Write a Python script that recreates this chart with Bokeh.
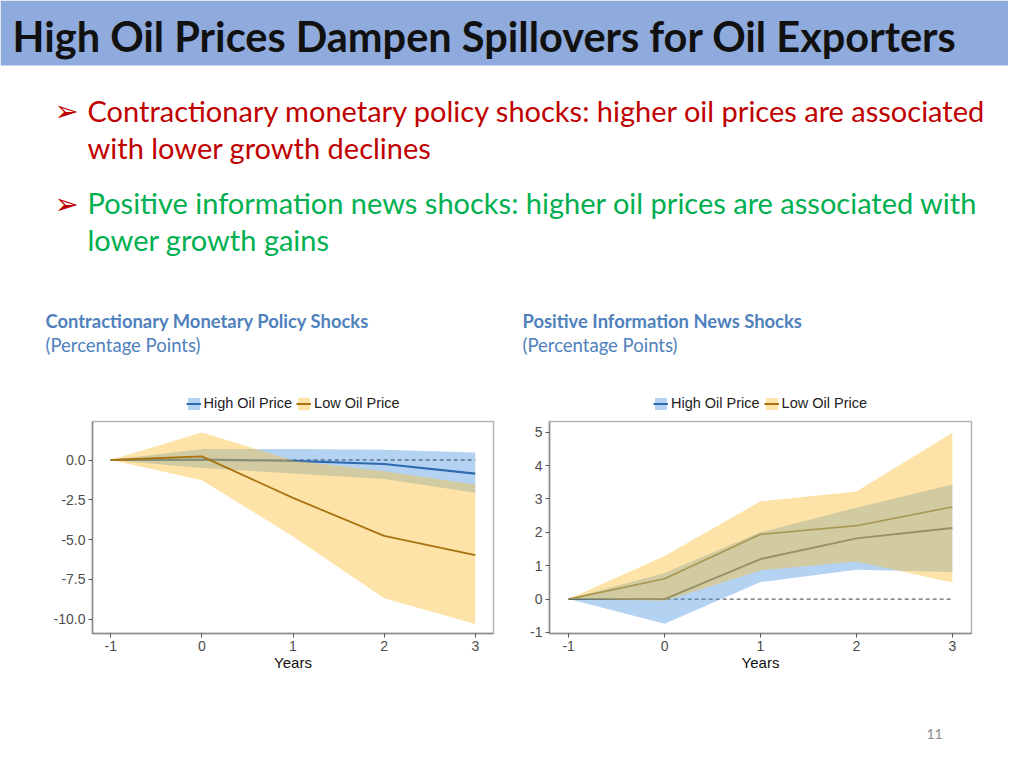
from bokeh.plotting import figure
from bokeh.models import Range1d, Legend, LegendItem, FixedTicker, PrintfTickFormatter
from bokeh.layouts import column, row
from bokeh.core.properties import value
from bokeh.embed import file_html
from bokeh.resources import INLINE

# ---------------- data ----------------
years = [-1, 0, 1, 2, 3]

# Contractionary monetary policy shocks
mp_high = [0, 0.03, -0.05, -0.25, -0.85]
mp_high_lo = [0, -0.5, -0.85, -1.19, -2.06]
mp_high_hi = [0, 0.69, 0.69, 0.65, 0.48]
mp_low = [0, 0.23, -2.38, -4.77, -5.98]
mp_low_lo = [0, -1.27, -4.8, -8.69, -10.3]
mp_low_hi = [0, 1.73, -0.03, -0.7, -1.54]

# Positive information news shocks
info_high = [0, 0, 1.2, 1.82, 2.13]
info_high_lo = [0, -0.74, 0.51, 0.88, 0.81]
info_high_hi = [0, 0.78, 2.0, 2.74, 3.43]
info_low = [0, 0.61, 1.94, 2.2, 2.76]
info_low_lo = [0, -0.05, 0.86, 1.13, 0.5]
info_low_hi = [0, 1.29, 2.93, 3.22, 4.98]

series_names = ["High Oil Price", "Low Oil Price"]
x_ticks = [-1, 0, 1, 2, 3]
mp_y_ticks = [-10, -7.5, -5, -2.5, 0]
info_y_ticks = [-1, 0, 1, 2, 3, 4, 5]

title = "High Oil Prices Dampen Spillovers for Oil Exporters"
bullet1 = ["Contractionary monetary policy shocks: higher oil prices are associated",
           "with lower growth declines"]
bullet2 = ["Positive information news shocks: higher oil prices are associated with",
           "lower growth gains"]
sub_left = "Contractionary Monetary Policy Shocks"
sub_right = "Positive Information News Shocks"
sub_unit = "(Percentage Points)"
page_no = "11"

# ---------------- styles ----------------
SLIDE_FONT = "Lato"
CHART_FONT = "Liberation Sans"
BLUE_FILL = "#4391DE"
ORANGE_FILL = "#FBBE35"
BLUE_LINE = "#2F6BAD"
ORANGE_LINE = "#A8730F"


def blank_fig(w, h, bl=0, br=0):
    p = figure(width=w, height=h, x_axis_type=None, y_axis_type=None, toolbar_location=None,
               output_backend="svg", min_border=0, min_border_left=bl, min_border_right=br)
    p.grid.visible = False
    p.outline_line_color = None
    p.border_fill_color = "white"
    p.background_fill_color = "white"
    return p


def text_fig(w, h):
    p = blank_fig(w, h)
    p.x_range = Range1d(0, w)
    p.y_range = Range1d(h, 0)
    return p


# ---------------- header ----------------
hdr = text_fig(1008, 388)
hdr.quad(left=[0], right=[1008], top=[0], bottom=[65], fill_color="#8FAADC", line_color=None)
hdr.text(x=[12], y=[35], text=[title], text_font=value(SLIDE_FONT), text_font_style="bold",
         text_font_size="41.5px", text_color="#111111", text_baseline="middle")
hdr.text(x=[54, 54], y=[110, 203], text=["\u27a2", "\u27a2"], text_font=value("DejaVu Sans"),
         text_font_size="29px", text_color="#C00000", text_baseline="middle")
hdr.text(x=[87, 87], y=[110, 147], text=bullet1, text_font=value(SLIDE_FONT),
         text_font_size="29px", text_color="#C00000", text_baseline="middle")
hdr.text(x=[87, 87], y=[202, 239], text=bullet2, text_font=value(SLIDE_FONT),
         text_font_size="29px", text_color="#00B050", text_baseline="middle")
hdr.text(x=[45, 522], y=[320, 320], text=[sub_left, sub_right], text_font=value(SLIDE_FONT),
         text_font_style="bold", text_font_size="18.4px", text_color="#4F81BD",
         text_baseline="middle")
hdr.text(x=[45, 522], y=[344, 344], text=[sub_unit, sub_unit], text_font=value(SLIDE_FONT),
         text_font_size="18.5px", text_color="#4F81BD", text_baseline="middle")


# ---------------- charts ----------------
def style_legend(items):
    return Legend(items=items, orientation="horizontal", location="center",
                  border_line_color=None, background_fill_alpha=0,
                  label_text_font=CHART_FONT, label_text_font_size="14.5px",
                  label_text_color="#222222",
                  glyph_width=15, glyph_height=15, spacing=4, padding=2, margin=0,
                  label_standoff=3)


def chart(width, bl, br, y_range, y_ticks, fmt, hi, hi_lo, hi_hi, lo, lo_lo, lo_hi,
          lines_under, hi_line_col, lo_line_col):
    p = figure(width=width, height=262, x_range=Range1d(-1.2, 3.2), y_range=Range1d(*y_range),
               toolbar_location=None, output_backend="svg",
               min_border_left=bl, min_border_right=br, min_border_top=3, min_border_bottom=47)
    p.grid.visible = False
    p.outline_line_color = "#B5B5B5"
    p.outline_line_width = 1.5
    p.background_fill_color = "white"
    p.border_fill_color = "white"

    p.xaxis.ticker = FixedTicker(ticks=x_ticks)
    p.xaxis.formatter = PrintfTickFormatter(format="%d")
    p.yaxis.ticker = FixedTicker(ticks=y_ticks)
    p.yaxis.formatter = PrintfTickFormatter(format=fmt)
    for ax in (p.xaxis[0], p.yaxis[0]):
        ax.axis_line_color = "#8C8C8C"
        ax.axis_line_width = 1.5
        ax.major_tick_line_color = "#555555"
        ax.major_tick_out = 4
        ax.major_tick_in = 0
        ax.minor_tick_line_color = None
        ax.major_label_text_font = CHART_FONT
        ax.major_label_text_font_size = "14px"
        ax.major_label_text_color = "#4D4D4D"
        ax.major_label_standoff = 3
    p.xaxis.axis_label = "Years"
    p.xaxis.axis_label_text_font = CHART_FONT
    p.xaxis.axis_label_text_font_size = "15px"
    p.xaxis.axis_label_text_font_style = "normal"
    p.xaxis.axis_label_text_color = "#111111"
    p.xaxis.axis_label_standoff = 0

    p.segment(x0=[years[0]], x1=[years[-1]], y0=[0], y1=[0], line_color="#666666",
              line_dash="4 3", line_width=1.3)

    if lines_under:
        p.line(years, hi, line_color=hi_line_col, line_width=1.8)
        p.line(years, lo, line_color=lo_line_col, line_width=1.6)
        p.varea(x=years, y1=hi_lo, y2=hi_hi, fill_color=BLUE_FILL, fill_alpha=0.4)
        p.varea(x=years, y1=lo_lo, y2=lo_hi, fill_color=ORANGE_FILL, fill_alpha=0.43)
    else:
        p.varea(x=years, y1=hi_lo, y2=hi_hi, fill_color=BLUE_FILL, fill_alpha=0.4)
        p.line(years, hi, line_color=hi_line_col, line_width=2.2)
        p.varea(x=years, y1=lo_lo, y2=lo_hi, fill_color=ORANGE_FILL, fill_alpha=0.43)
        p.line(years, lo, line_color=lo_line_col, line_width=1.8)

    # legend strip above the panel (its keys carry the same series, kept out of view)
    s = blank_fig(width, 30, bl, br)
    s.x_range = Range1d(100, 101)
    s.y_range = Range1d(100, 101)
    kb = s.varea(x=years, y1=hi_lo, y2=hi_hi, fill_color=BLUE_FILL, fill_alpha=0.4)
    kl = s.line(years, hi, line_color=BLUE_LINE, line_width=2)
    ob = s.varea(x=years, y1=lo_lo, y2=lo_hi, fill_color=ORANGE_FILL, fill_alpha=0.43)
    ol = s.line(years, lo, line_color=ORANGE_LINE, line_width=2)
    s.add_layout(style_legend([LegendItem(label=series_names[0], renderers=[kb, kl]),
                               LegendItem(label=series_names[1], renderers=[ob, ol])]))
    return column(s, p)


left = chart(510, 92, 17, (-10.9, 2.42), mp_y_ticks, "%.1f",
             mp_high, mp_high_lo, mp_high_hi, mp_low, mp_low_lo, mp_low_hi,
             False, BLUE_LINE, ORANGE_LINE)
right = chart(498, 39, 37, (-1.03, 5.32), info_y_ticks, "%d",
              info_high, info_high_lo, info_high_hi, info_low, info_low_lo, info_low_hi,
              True, "#4E585C", "#7E6A18")

# ---------------- footer ----------------
ftr = text_fig(1008, 72)
ftr.text(x=[934], y=[53], text=[page_no], text_font=value(SLIDE_FONT), text_font_size="14px",
         text_color="#8C8C8C", text_align="center", text_baseline="middle")

page = column(hdr, row(left, right), ftr)
open("out.html", "w").write(file_html(page, INLINE))
